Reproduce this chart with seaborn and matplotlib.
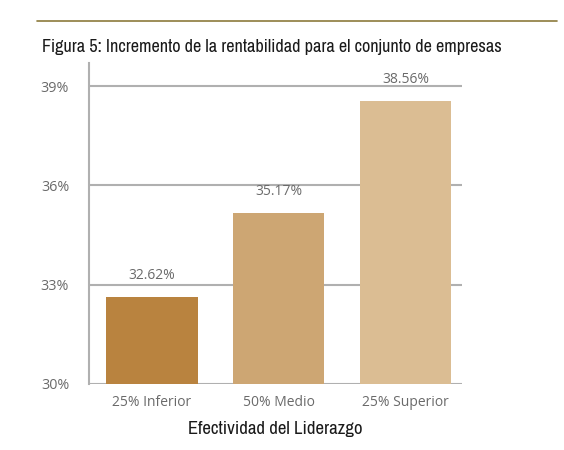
import matplotlib
matplotlib.use("Agg")
import matplotlib.pyplot as plt
import seaborn as sns
import pandas as pd

# datos
grupos = ["25% Inferior", "50% Medio", "25% Superior"]
rentabilidad = [32.62, 35.17, 38.56]
colores = ["#B9833F", "#CDA673", "#DBBD93"]
marcas_y = [30, 33, 36, 39]

df = pd.DataFrame({"grupo": grupos, "valor": rentabilidad})

sns.set_style("white")
plt.rcParams["font.family"] = ["Open Sans", "DejaVu Sans"]

fig = plt.figure(figsize=(5.64, 4.5), dpi=100)
ax = fig.add_axes([0.157, 0.147, 0.663, 0.713])

sns.barplot(data=df, x="grupo", y="valor", hue="grupo", palette=colores,
            legend=False, width=0.72, saturation=1, linewidth=0, ax=ax, zorder=3)

gris = "#B0B0B0"
ax.set_ylim(30, 39.7)
ax.set_xlim(-0.5, 2.45)
ax.set_yticks(marcas_y)
ax.set_yticklabels([f"{v}%" for v in marcas_y])
ax.yaxis.grid(True, color=gris, linewidth=1.5, zorder=0)
ax.tick_params(axis="y", length=8, width=1.5, color=gris, labelcolor="#6A6A6A",
               labelsize=10.3, pad=6)
ax.tick_params(axis="x", length=0, labelcolor="#6A6A6A", labelsize=10, pad=8)

for s in ["top", "right", "bottom"]:
    ax.spines[s].set_visible(False)
ax.spines["left"].set_color(gris)
ax.spines["left"].set_linewidth(1.5)

for i, v in enumerate(rentabilidad):
    ax.text(i, v + 0.42, f"{v:.2f}%", ha="center", va="bottom",
            fontsize=10, color="#6A6A6A")

cond = ["Archivo Narrow", "DejaVu Sans"]
ax.set_xlabel("Efectividad del Liderazgo", fontsize=13.5, color="#1A1A1A",
              family=cond, labelpad=8)
ax.set_ylabel("")

fig.text(0.074, 0.895, "Figura 5: Incremento de la rentabilidad para el conjunto de empresas",
         fontsize=13.1, family=cond, color="#1A1A1A", va="center")
fig.add_artist(plt.Line2D([0.066, 0.988], [0.953, 0.953], color="#8C7A3C",
                          linewidth=1.2))

fig.savefig("out.png", dpi=100)
